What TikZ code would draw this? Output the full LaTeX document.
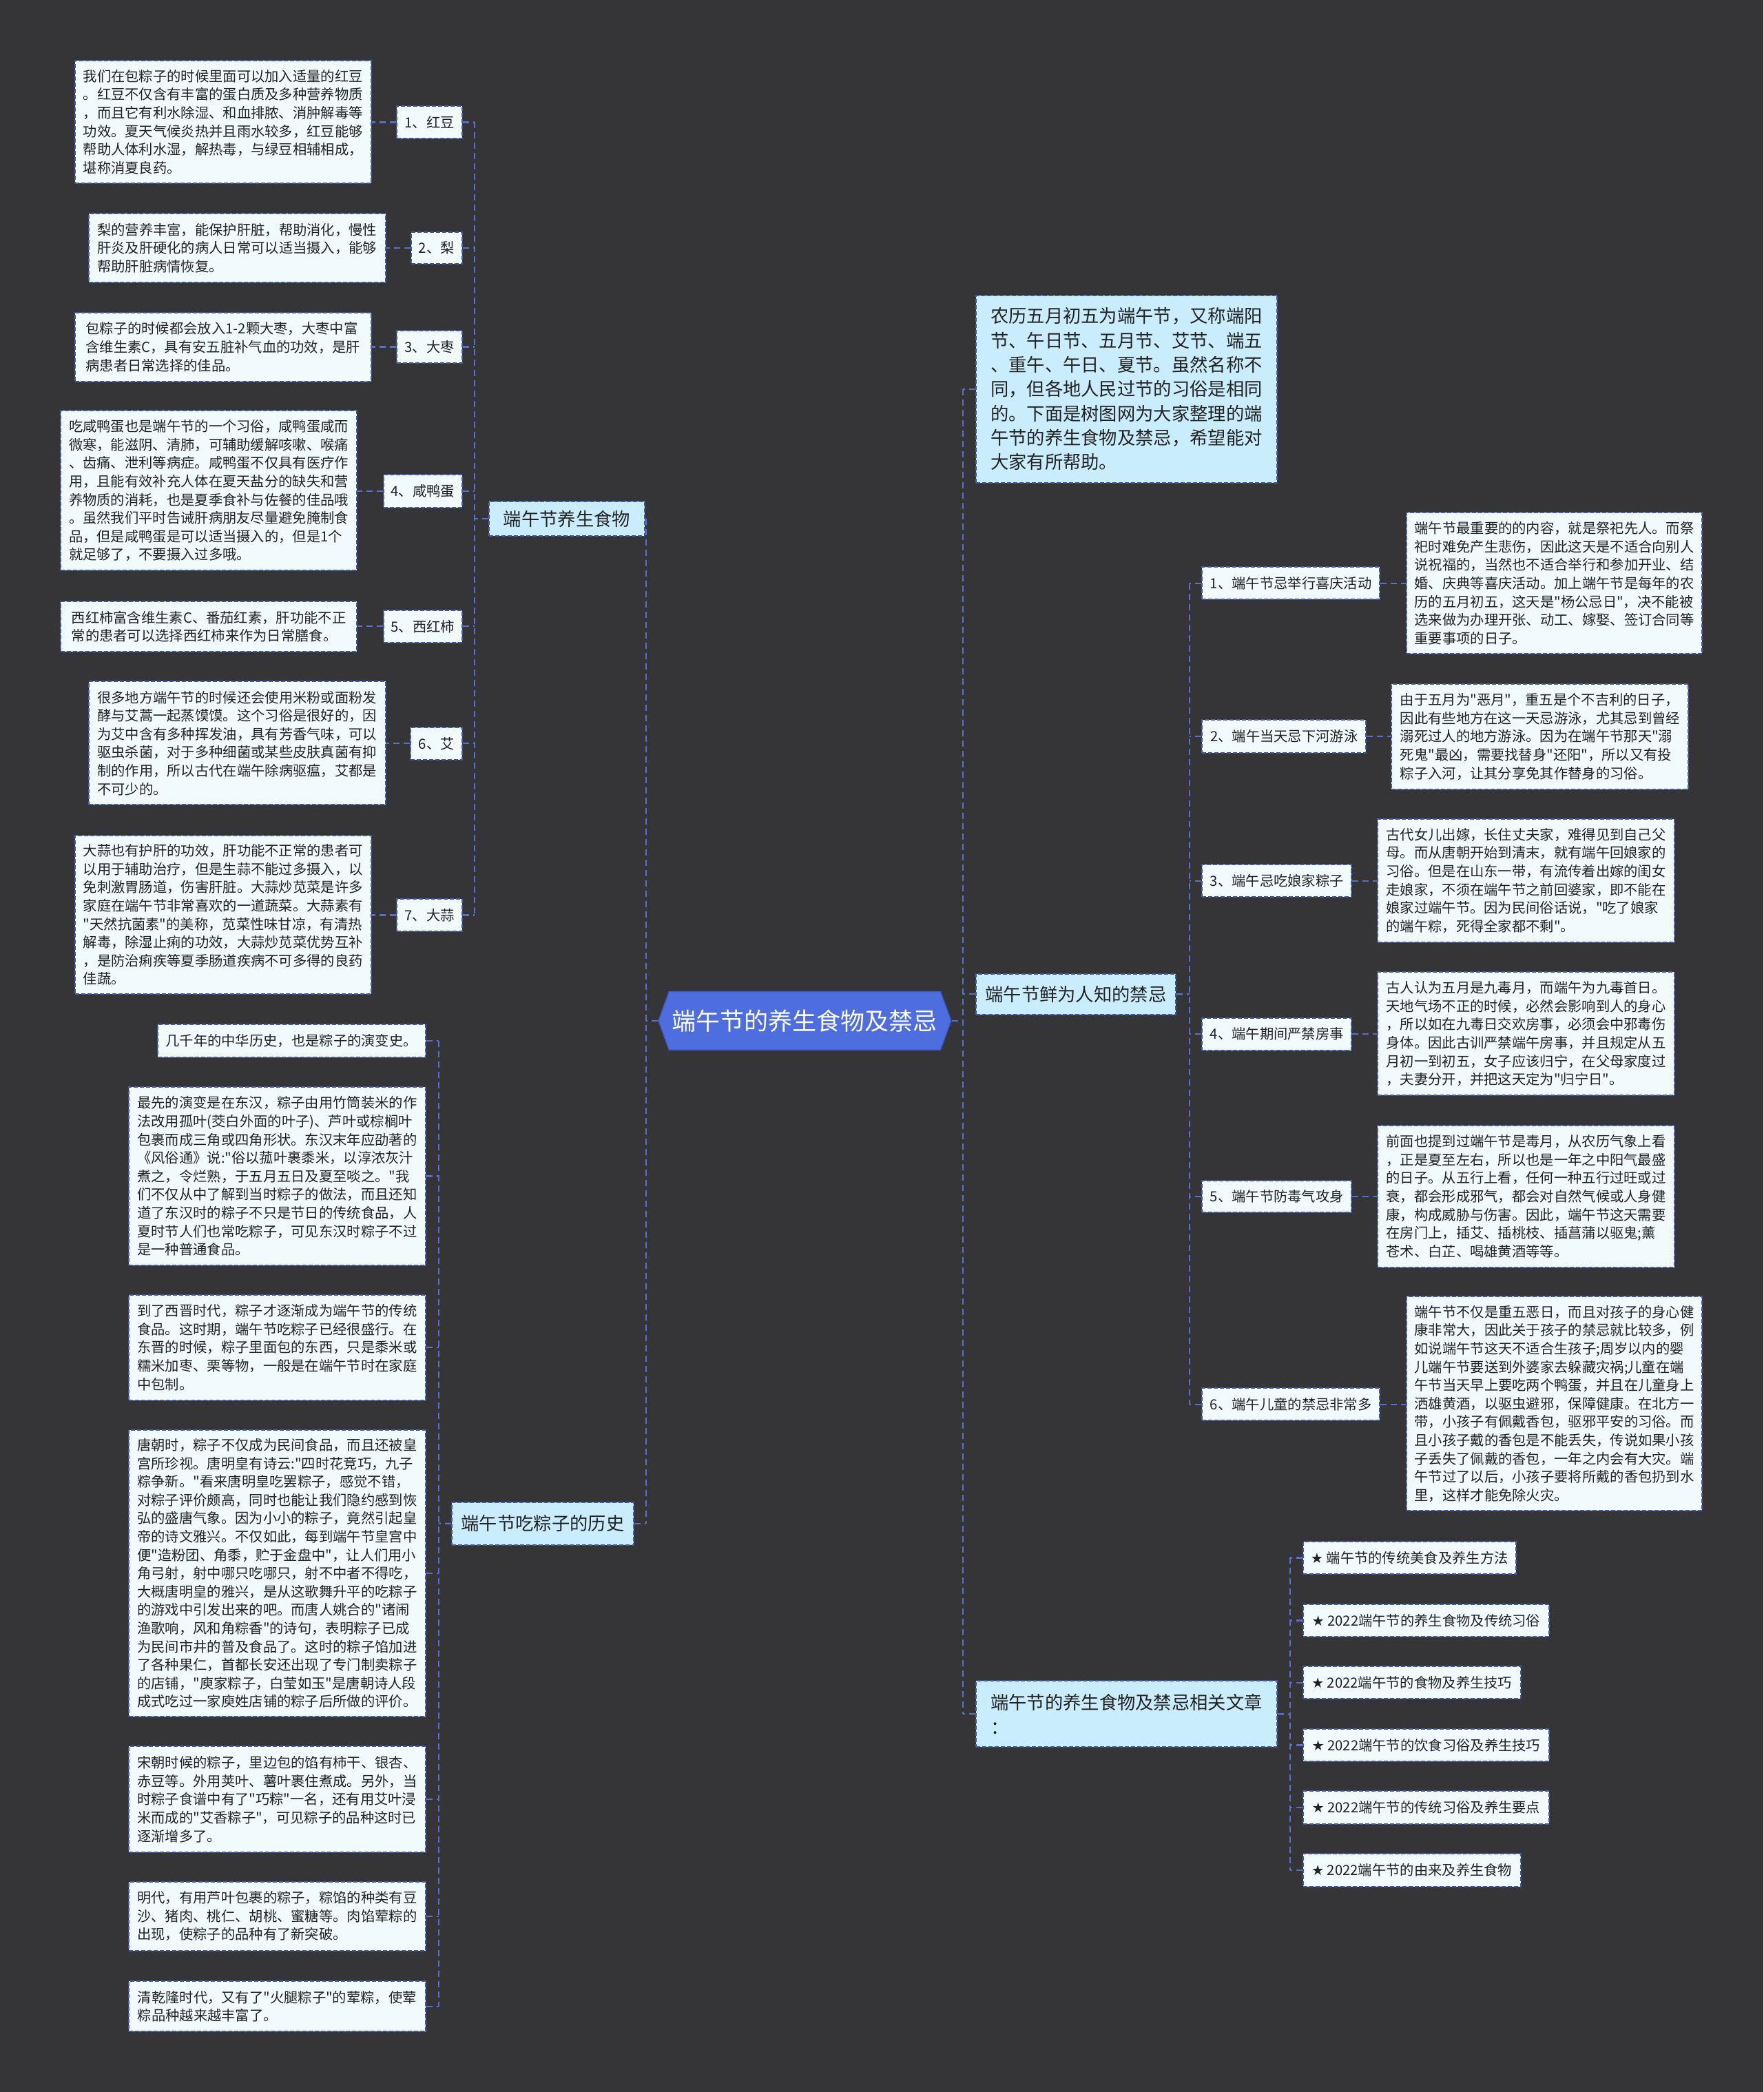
\documentclass[tikz,border=0pt]{standalone}
\usepackage{fontspec}
\setmainfont{Noto Sans CJK SC}[Ligatures=TeXOff]
\newfontfamily\symf{DejaVu Sans}
\usetikzlibrary{calc,shapes.symbols}
\definecolor{bgc}{RGB}{53,53,56}
\definecolor{connc}{RGB}{88,112,205}
\definecolor{bordc}{RGB}{66,88,168}
\definecolor{leaffill}{RGB}{241,250,253}
\definecolor{mainfill}{RGB}{202,237,253}
\definecolor{txtc}{RGB}{34,34,34}
\definecolor{hubc}{RGB}{78,110,224}
\definecolor{hubd}{RGB}{62,92,205}
\newcommand\tbox[7]{%
  \pgfmathsetmacro\tbW{(#5-#3)*1.93646}%
  \pgfmathsetmacro\tbH{(#6-#4)*1.93646}%
  \node[#2, minimum width=\tbW pt, minimum height=\tbH pt] (#1) at ({(#3+#5)/2},{(#4+#6)/2}) {#7};%
}
\tikzset{
  conn/.style={draw=connc, line width=2.3pt, dash pattern=on 9pt off 6pt},
  leaf/.style={draw=bordc, fill=leaffill, line width=2pt, dash pattern=on 6pt off 3pt,
    inner sep=0pt, align=left, text=txtc, font=\fontsize{20.3}{26.6}\selectfont},
  mainb/.style={leaf, fill=mainfill, font=\fontsize{26.3}{35.3}\selectfont},
  hub/.style={signal, signal to=west and east, signal pointer angle=140, fill=hubc,
    draw=hubd, line width=1.5pt, text=white, font=\fontsize{35}{40}\selectfont, inner sep=0pt},
}
\begin{document}
\begin{tikzpicture}[x=1.93646pt,y=-1.93646pt]
\fill[bgc] (0,0) rectangle (1322,1568.3);
\useasboundingbox (0,0) rectangle (1322,1568.3);

% hub
\tbox{hub}{hub}{493.7}{743.4}{713}{787}{端午节的养生食物及禁忌}

% ===== food section =====
\tbox{food}{mainb}{366.5}{376}{483.5}{402}{端午节养生食物}
\tbox{l1}{leaf}{297.6}{79.4}{346.5}{103.8}{1、红豆}
\tbox{l2}{leaf}{308.1}{174}{346.5}{198}{2、梨}
\tbox{l3}{leaf}{297.6}{248}{346.5}{272}{3、大枣}
\tbox{l4}{leaf}{287.4}{356}{346.5}{380.4}{4、咸鸭蛋}
\tbox{l5}{leaf}{287.4}{457.5}{346.5}{481.6}{5、西红柿}
\tbox{l6}{leaf}{308}{545.3}{346.5}{569.4}{6、艾}
\tbox{l7}{leaf}{297.6}{673.9}{346.5}{698}{7、大蒜}

\tbox{d1}{leaf}{56.2}{45.3}{278.2}{137.5}{我们在包粽子的时候里面可以加入适量的红豆\\。红豆不仅含有丰富的蛋白质及多种营养物质\\，而且它有利水除湿、和血排脓、消肿解毒等\\功效。夏天气候炎热并且雨水较多，红豆能够\\帮助人体利水湿，解热毒，与绿豆相辅相成，\\堪称消夏良药。}
\tbox{d2}{leaf}{66.4}{160.3}{289}{211.6}{梨的营养丰富，能保护肝脏，帮助消化，慢性\\肝炎及肝硬化的病人日常可以适当摄入，能够\\帮助肝脏病情恢复。}
\tbox{d3}{leaf}{56.2}{234.3}{278.2}{285.9}{包粽子的时候都会放入1-2颗大枣，大枣中富\\含维生素C，具有安五脏补气血的功效，是肝\\病患者日常选择的佳品。}
\tbox{d4}{leaf}{45.5}{308}{267.5}{427.7}{吃咸鸭蛋也是端午节的一个习俗，咸鸭蛋咸而\\微寒，能滋阴、清肺，可辅助缓解咳嗽、喉痛\\、齿痛、泄利等病症。咸鸭蛋不仅具有医疗作\\用，且能有效补充人体在夏天盐分的缺失和营\\养物质的消耗，也是夏季食补与佐餐的佳品哦\\。虽然我们平时告诫肝病朋友尽量避免腌制食\\品，但是咸鸭蛋是可以适当摄入的，但是1个\\就足够了，不要摄入过多哦。}
\tbox{d5}{leaf}{45.5}{451}{267.5}{488.5}{西红柿富含维生素C、番茄红素，肝功能不正\\常的患者可以选择西红柿来作为日常膳食。}
\tbox{d6}{leaf}{66.4}{510.9}{289}{603.3}{很多地方端午节的时候还会使用米粉或面粉发\\酵与艾蒿一起蒸馍馍。这个习俗是很好的，因\\为艾中含有多种挥发油，具有芳香气味，可以\\驱虫杀菌，对于多种细菌或某些皮肤真菌有抑\\制的作用，所以古代在端午除病驱瘟，艾都是\\不可少的。}
\tbox{d7}{leaf}{56.2}{626.2}{278.2}{745.3}{大蒜也有护肝的功效，肝功能不正常的患者可\\以用于辅助治疗，但是生蒜不能过多摄入，以\\免刺激胃肠道，伤害肝脏。大蒜炒苋菜是许多\\家庭在端午节非常喜欢的一道蔬菜。大蒜素有\\"天然抗菌素"的美称，苋菜性味甘凉，有清热\\解毒，除湿止痢的功效，大蒜炒苋菜优势互补\\，是防治痢疾等夏季肠道疾病不可多得的良药\\佳蔬。}

% ===== history section =====
\tbox{hist}{mainb}{338.8}{1126}{475}{1158.2}{端午节吃粽子的历史}
\tbox{h1}{leaf}{118}{768}{319}{792.7}{几千年的中华历史，也是粽子的演变史。}
\tbox{h2}{leaf}{96.5}{815}{319}{948.5}{最先的演变是在东汉，粽子由用竹筒装米的作\\法改用孤叶(茭白外面的叶子)、芦叶或棕榈叶\\包裹而成三角或四角形状。东汉末年应劭著的\\《风俗通》说:"俗以菰叶裹黍米，以淳浓灰汁\\煮之，令烂熟，于五月五日及夏至啖之。"我\\们不仅从中了解到当时粽子的做法，而且还知\\道了东汉时的粽子不只是节日的传统食品，人\\夏时节人们也常吃粽子，可见东汉时粽子不过\\是一种普通食品。}
\tbox{h3}{leaf}{96.5}{970.6}{319}{1049.7}{到了西晋时代，粽子才逐渐成为端午节的传统\\食品。这时期，端午节吃粽子已经很盛行。在\\东晋的时候，粽子里面包的东西，只是黍米或\\糯米加枣、栗等物，一般是在端午节时在家庭\\中包制。}
\tbox{h4}{leaf}{96.5}{1072}{319}{1286.8}{唐朝时，粽子不仅成为民间食品，而且还被皇\\宫所珍视。唐明皇有诗云:"四时花竞巧，九子\\粽争新。"看来唐明皇吃罢粽子，感觉不错，\\对粽子评价颇高，同时也能让我们隐约感到恢\\弘的盛唐气象。因为小小的粽子，竟然引起皇\\帝的诗文雅兴。不仅如此，每到端午节皇宫中\\便"造粉团、角黍，贮于金盘中"，让人们用小\\角弓射，射中哪只吃哪只，射不中者不得吃，\\大概唐明皇的雅兴，是从这歌舞升平的吃粽子\\的游戏中引发出来的吧。而唐人姚合的"诸闹\\渔歌响，风和角粽香"的诗句，表明粽子已成\\为民间市井的普及食品了。这时的粽子馅加进\\了各种果仁，首都长安还出现了专门制卖粽子\\的店铺，"庾家粽子，白莹如玉"是唐朝诗人段\\成式吃过一家庾姓店铺的粽子后所做的评价。}
\tbox{h5}{leaf}{96.5}{1309.1}{319}{1388.6}{宋朝时候的粽子，里边包的馅有柿干、银杏、\\赤豆等。外用荚叶、薯叶裹住煮成。另外，当\\时粽子食谱中有了"巧粽"一名，还有用艾叶浸\\米而成的"艾香粽子"，可见粽子的品种这时已\\逐渐增多了。}
\tbox{h6}{leaf}{96.5}{1410.6}{319}{1462.3}{明代，有用芦叶包裹的粽子，粽馅的种类有豆\\沙、猪肉、桃仁、胡桃、蜜糖等。肉馅荤粽的\\出现，使粽子的品种有了新突破。}
\tbox{h7}{leaf}{96.5}{1485.2}{319}{1523}{清乾隆时代，又有了"火腿粽子"的荤粽，使荤\\粽品种越来越丰富了。}

% ===== right side =====
\tbox{intro}{mainb}{731.6}{221.4}{957.4}{362}{农历五月初五为端午节，又称端阳\\节、午日节、五月节、艾节、端五\\、重午、午日、夏节。虽然名称不\\同，但各地人民过节的习俗是相同\\的。下面是树图网为大家整理的端\\午节的养生食物及禁忌，希望能对\\大家有所帮助。}
\tbox{taboo}{mainb}{731.7}{730}{881.5}{760.5}{端午节鲜为人知的禁忌}
\tbox{art}{mainb}{731.6}{1260.2}{957.5}{1309.7}{端午节的养生食物及禁忌相关文章\\：}

\tbox{t1}{leaf}{901.3}{425.2}{1034.4}{449.3}{1、端午节忌举行喜庆活动}
\tbox{t2}{leaf}{901.3}{539.8}{1024.1}{564.3}{2、端午当天忌下河游泳}
\tbox{t3}{leaf}{901.3}{648.3}{1013.3}{672.4}{3、端午忌吃娘家粽子}
\tbox{t4}{leaf}{901.3}{763.2}{1013.3}{787.3}{4、端午期间严禁房事}
\tbox{t5}{leaf}{901.3}{884.9}{1013.3}{909}{5、端午节防毒气攻身}
\tbox{t6}{leaf}{901.3}{1040.6}{1034.4}{1065}{6、端午儿童的禁忌非常多}

\tbox{td1}{leaf}{1054.3}{384.4}{1276.2}{490.2}{端午节最重要的的内容，就是祭祀先人。而祭\\祀时难免产生悲伤，因此这天是不适合向别人\\说祝福的，当然也不适合举行和参加开业、结\\婚、庆典等喜庆活动。加上端午节是每年的农\\历的五月初五，这天是"杨公忌日"，决不能被\\选来做为办理开张、动工、嫁娶、签订合同等\\重要事项的日子。}
\tbox{td2}{leaf}{1043.3}{512.6}{1265.9}{591.8}{由于五月为"恶月"，重五是个不吉利的日子，\\因此有些地方在这一天忌游泳，尤其忌到曾经\\溺死过人的地方游泳。因为在端午节那天"溺\\死鬼"最凶，需要找替身"还阳"，所以又有投\\粽子入河，让其分享免其作替身的习俗。}
\tbox{td3}{leaf}{1033}{613.8}{1255.2}{706.4}{古代女儿出嫁，长住丈夫家，难得见到自己父\\母。而从唐朝开始到清末，就有端午回娘家的\\习俗。但是在山东一带，有流传着出嫁的闺女\\走娘家，不须在端午节之前回婆家，即不能在\\娘家过端午节。因为民间俗话说，"吃了娘家\\的端午粽，死得全家都不剩"。}
\tbox{td4}{leaf}{1033}{728.8}{1255.2}{821.2}{古人认为五月是九毒月，而端午为九毒首日。\\天地气场不正的时候，必然会影响到人的身心\\，所以如在九毒日交欢房事，必须会中邪毒伤\\身体。因此古训严禁端午房事，并且规定从五\\月初一到初五，女子应该归宁，在父母家度过\\，夫妻分开，并把这天定为"归宁日"。}
\tbox{td5}{leaf}{1033}{843.7}{1255.2}{950}{前面也提到过端午节是毒月，从农历气象上看\\，正是夏至左右，所以也是一年之中阳气最盛\\的日子。从五行上看，任何一种五行过旺或过\\衰，都会形成邪气，都会对自然气候或人身健\\康，构成威胁与伤害。因此，端午节这天需要\\在房门上，插艾、插桃枝、插菖蒲以驱鬼;薰\\苍术、白芷、喝雄黄酒等等。}
\tbox{td6}{leaf}{1054.3}{972}{1276.2}{1132.7}{端午节不仅是重五恶日，而且对孩子的身心健\\康非常大，因此关于孩子的禁忌就比较多，例\\如说端午节这天不适合生孩子;周岁以内的婴\\儿端午节要送到外婆家去躲藏灾祸;儿童在端\\午节当天早上要吃两个鸭蛋，并且在儿童身上\\洒雄黄酒，以驱虫避邪，保障健康。在北方一\\带，小孩子有佩戴香包，驱邪平安的习俗。而\\且小孩子戴的香包是不能丢失，传说如果小孩\\子丢失了佩戴的香包，一年之内会有大灾。端\\午节过了以后，小孩子要将所戴的香包扔到水\\里，这样才能免除火灾。}

\tbox{a1}{leaf}{976.9}{1155.5}{1136.5}{1180.1}{{\symf ★} 端午节的传统美食及养生方法}
\tbox{a2}{leaf}{976.9}{1202.5}{1161.4}{1227}{{\symf ★} 2022端午节的养生食物及传统习俗}
\tbox{a3}{leaf}{976.9}{1249.3}{1140}{1273.6}{{\symf ★} 2022端午节的食物及养生技巧}
\tbox{a4}{leaf}{976.9}{1296}{1161.4}{1320.4}{{\symf ★} 2022端午节的饮食习俗及养生技巧}
\tbox{a5}{leaf}{976.9}{1342.8}{1161.4}{1367.3}{{\symf ★} 2022端午节的传统习俗及养生要点}
\tbox{a6}{leaf}{976.9}{1389.6}{1140}{1414.3}{{\symf ★} 2022端午节的由来及养生食物}

% ===== connectors =====
% hub left
\coordinate (cl) at (484.3,765.2);
\draw[conn] (hub.west) -- (cl);
\draw[conn] (cl |- food.east) -- (cl |- hist.east);
\draw[conn] (food.east) -- (cl |- food.east);
\draw[conn] (hist.east) -- (cl |- hist.east);
% hub right
\coordinate (cr) at (722,765.2);
\draw[conn] (hub.east) -- (cr);
\draw[conn] (cr |- intro.west) -- (cr |- art.west);
\draw[conn] (intro.west) -- (cr |- intro.west);
\draw[conn] (taboo.west) -- (cr |- taboo.west);
\draw[conn] (art.west) -- (cr |- art.west);

% food children
\coordinate (fv) at (355.8,389);
\draw[conn] (food.west) -- (fv);
\draw[conn] (fv |- l1.east) -- (fv |- l7.east);
\foreach \n/\d in {l1/d1,l2/d2,l3/d3,l4/d4,l5/d5,l6/d6,l7/d7}{
  \draw[conn] (\n.east) -- (fv |- \n.east);
  \draw[conn] (\n.west) -- (\n.west -| \d.east);
}

% history children
\coordinate (hv) at (328.8,1142.1);
\draw[conn] (hist.west) -- (hv);
\draw[conn] (hv |- h1.east) -- (hv |- h7.east);
\foreach \n in {h1,h2,h3,h4,h5,h6,h7}{
  \draw[conn] (\n.east) -- (hv |- \n.east);
}

% taboo children
\coordinate (tv) at (891.8,745.2);
\draw[conn] (taboo.east) -- (tv);
\draw[conn] (tv |- t1.west) -- (tv |- t6.west);
\foreach \n/\d in {t1/td1,t2/td2,t3/td3,t4/td4,t5/td5,t6/td6}{
  \draw[conn] (\n.west) -- (tv |- \n.west);
  \draw[conn] (\n.east) -- (\n.east -| \d.west);
}

% article children
\coordinate (av) at (967.2,1285);
\draw[conn] (art.east) -- (av);
\draw[conn] (av |- a1.west) -- (av |- a6.west);
\foreach \n in {a1,a2,a3,a4,a5,a6}{
  \draw[conn] (\n.west) -- (av |- \n.west);
}
\end{tikzpicture}
\end{document}
